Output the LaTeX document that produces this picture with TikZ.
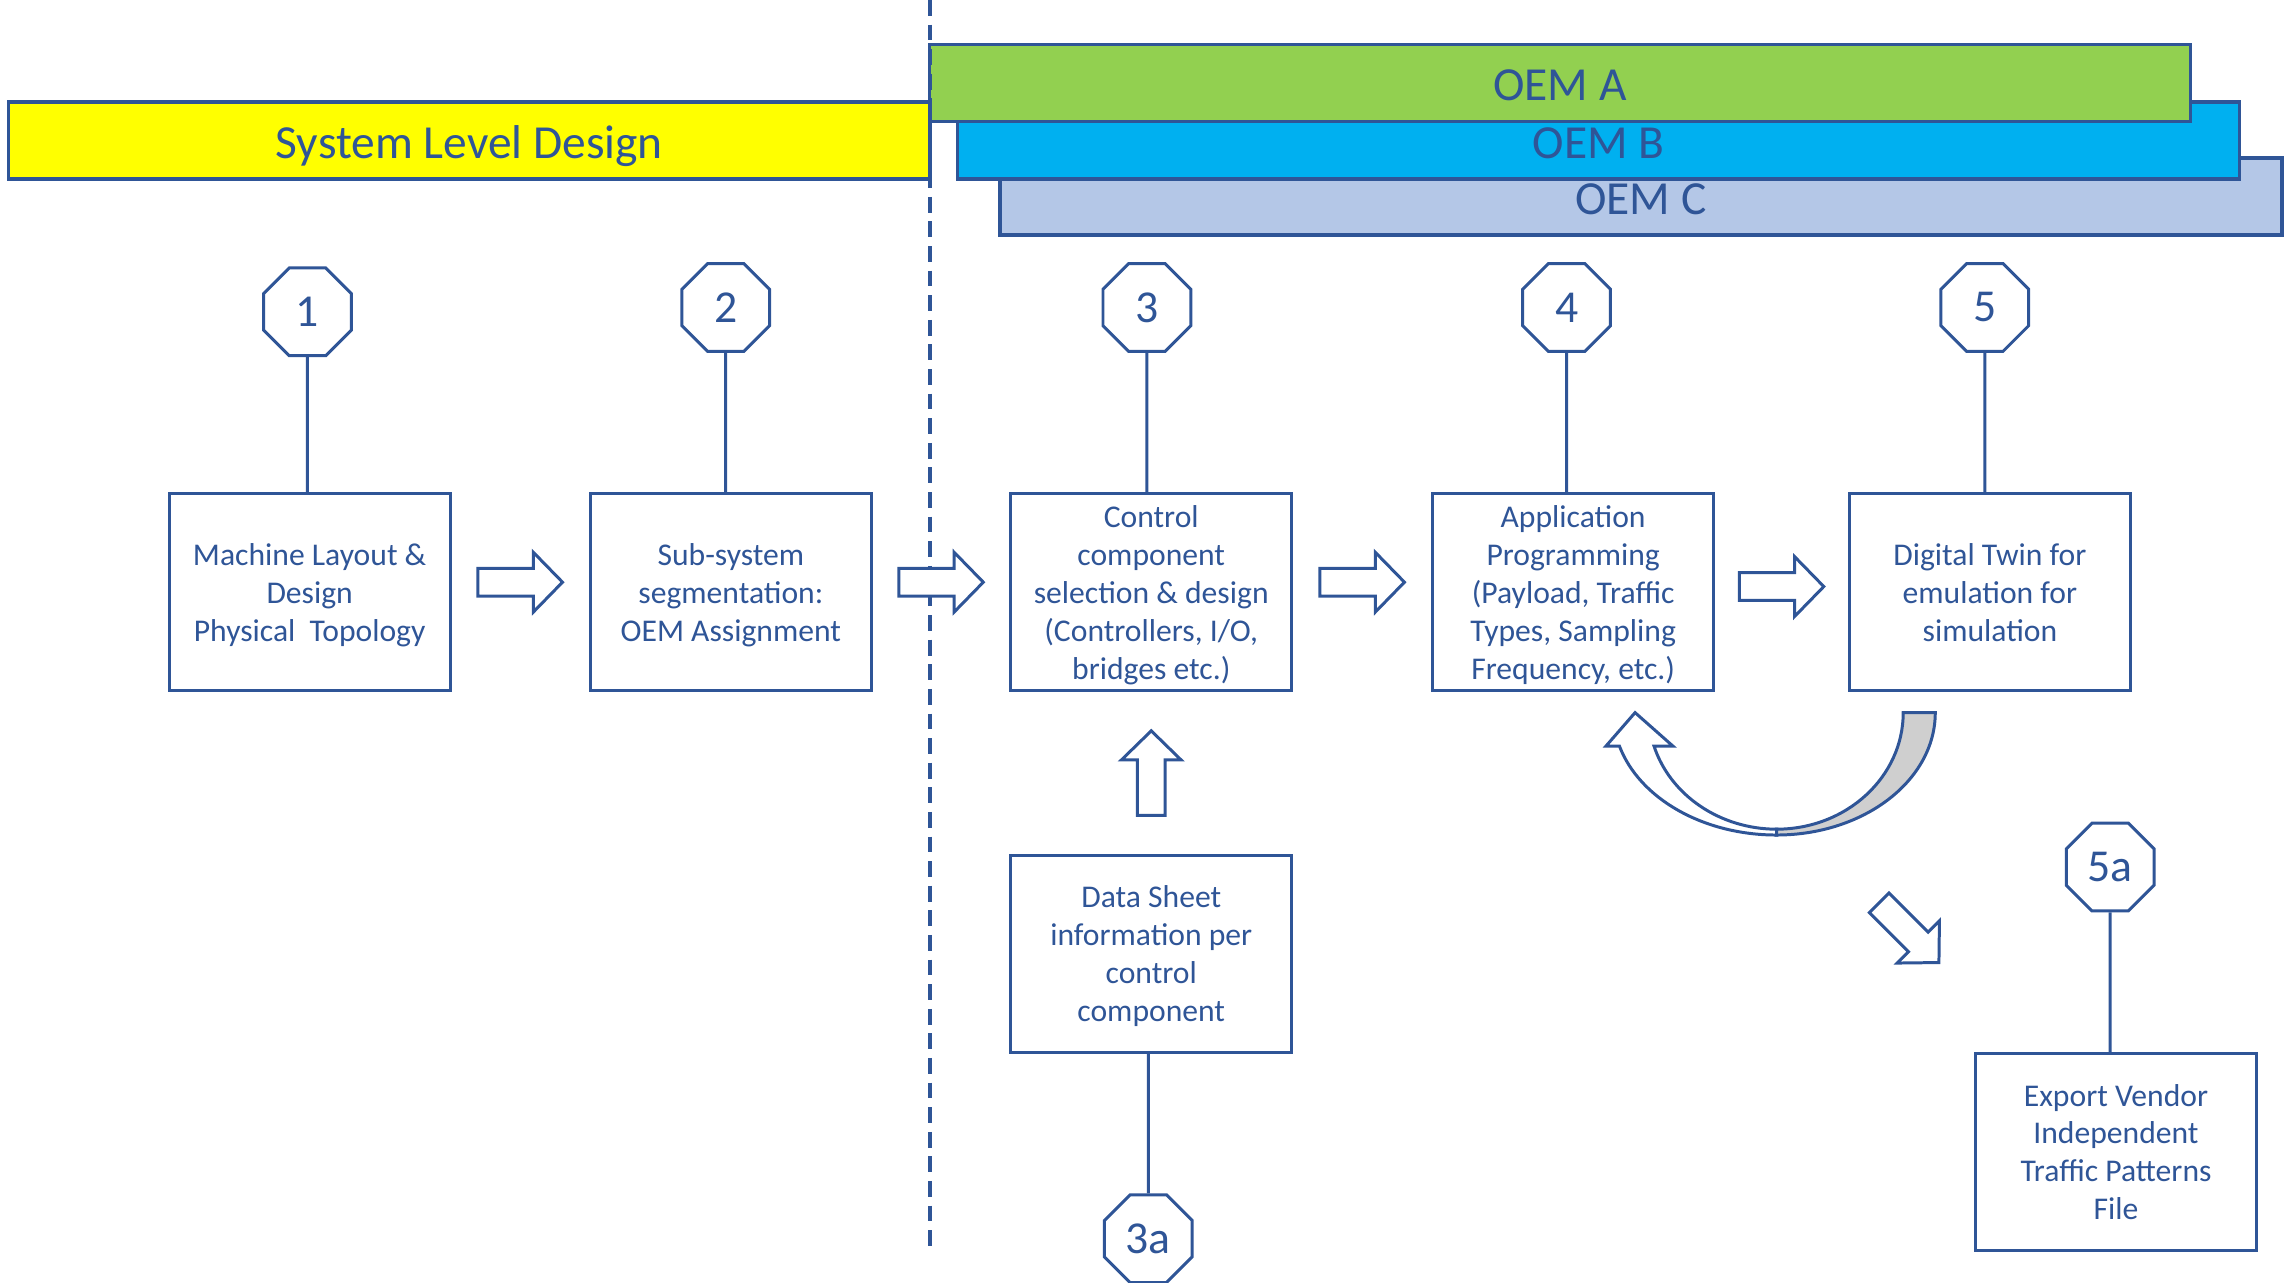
\documentclass[tikz,border=0pt]{standalone}
\usepackage{fontspec}
\setmainfont{Carlito}
\usetikzlibrary{shapes.geometric,calc}

\definecolor{navy}{HTML}{2F5597}
\definecolor{sysyellow}{HTML}{FFFF00}
\definecolor{oemA}{HTML}{92D050}
\definecolor{oemB}{HTML}{00B0F0}
\definecolor{oemC}{HTML}{B4C7E7}
\definecolor{backface}{HTML}{CFCFCF}

\tikzset{
  stepbox/.style={draw=navy, line width=0.85pt, minimum width=2.81cm, minimum height=1.97cm,
    align=center, inner sep=0pt, text depth=0pt, text=navy, font=\fontsize{9}{10.8}\selectfont},
  octa/.style={regular polygon, regular polygon sides=8, draw=navy, line width=0.85pt,
    minimum size=0.95cm, inner sep=0pt, fill=white, text=navy, font=\fontsize{13}{15}\selectfont},
  bar/.style={draw=navy, line width=1pt, minimum height=0.77cm, inner sep=0pt,
    text height=10pt, text depth=0pt, text=navy, font=\fontsize{13.5}{16}\selectfont},
  link/.style={draw=navy, line width=0.85pt},
  blockarrow/.pic={
    \draw[navy, line width=0.85pt, fill=white] (-29,-9.5) -- (9,-9.5) -- (9,-20.5) -- (29,0)
      -- (9,20.5) -- (9,9.5) -- (-29,9.5) -- cycle;
  }
}

\begin{document}
\begin{tikzpicture}[x=0.014573cm, y=0.014573cm]
			\useasboundingbox (0,0) rectangle (1568,-880.4);
			\node[bar, fill=oemC, minimum width=12.82cm] (oemc) at (1126,-135) {OEM C};
			\node[bar, fill=oemB, minimum width=12.82cm] (oemb) at (1097,-96.5) {OEM B};
			\node[bar, fill=oemA, minimum width=12.61cm] (oema) at (1070.5,-57) {OEM A};
			\node[bar, fill=sysyellow, minimum width=9.21cm] (sld) at (322,-96.5) {System Level Design};
			\draw[navy, line width=1pt, dash pattern=on 4.5pt off 2.5pt] (638,0)--(638,-858);
			\node[octa] (n1) at (211,-214) {1};
			\node[octa] (n2) at (498,-211) {2};
			\node[octa] (n3) at (787,-211) {3};
			\node[octa] (n4) at (1075,-211) {4};
			\node[octa] (n5) at (1362,-211) {5};
			\node[octa] (n5a) at (1448,-595) {5a};
			\node[octa] (n3a) at (788,-850) {3a};
			\node[stepbox] (b1) at (212.5,-406.5) {Machine Layout \&\\Design\\Physical\ \ Topology};
			\node[stepbox] (b2) at (501.5,-406.5) {Sub-system\\segmentation:\\OEM Assignment};
			\node[stepbox] (b3) at (790,-406.5) {Control\\component\\selection \& design\\(Controllers, I/O,\\bridges etc.)};
			\node[stepbox] (b4) at (1079.5,-406.5) {Application\\Programming\\(Payload, Traffic\\Types, Sampling\\Frequency, etc.)};
			\node[stepbox] (b5) at (1365.5,-406.5) {Digital Twin for\\emulation for\\simulation};
			\node[stepbox] (b3a) at (790,-654.5) {Data Sheet\\information per\\control\\component};
			\node[stepbox] (b5a) at (1452,-790.5) {Export Vendor\\Independent\\Traffic Patterns\\File};
			\draw[link] (n1)--(n1 |- b1.north);
			\draw[link] (n2)--(n2 |- b2.north);
			\draw[link] (n3)--(n3 |- b3.north);
			\draw[link] (n4)--(n4 |- b4.north);
			\draw[link] (n5)--(n5 |- b5.north);
			\draw[link] (n5a)--(n5a |- b5a.north);
			\draw[link] (n3a)--(n3a |- b3a.south);
			\pic at ($(b1.east)!0.5!(b2.west)+(0,7)$) {blockarrow};
			\pic at ($(b2.east)!0.5!(b3.west)+(0,7)$) {blockarrow};
			\pic at ($(b3.east)!0.5!(b4.west)+(0,7)$) {blockarrow};
			\pic at ($(b4.east)!0.5!(b5.west)+(0,4)$) {blockarrow};
			\pic[rotate=90] at ($(b3.south)!0.5!(b3a.north)$) {blockarrow};
			\pic[rotate=-45] at (1310,-640) {blockarrow};
			\filldraw[navy, line width=0.85pt, fill=backface] (1306,-489)--(1328,-489)
				arc[start angle=0, end angle=-90, x radius=109, y radius=84]--(1219,-569)
				arc[start angle=-90, end angle=0, x radius=87, y radius=80]--cycle;
			\filldraw[navy, line width=0.85pt, fill=white] (1122,-489)--(1148,-512)--(1135,-512)
				arc[start angle=196.7, end angle=270, x radius=88, y radius=80]--(1219,-573)
				arc[start angle=270, end angle=195.9, x radius=112, y radius=84]--(1102,-512)--cycle;
		\end{tikzpicture}
\end{document}
